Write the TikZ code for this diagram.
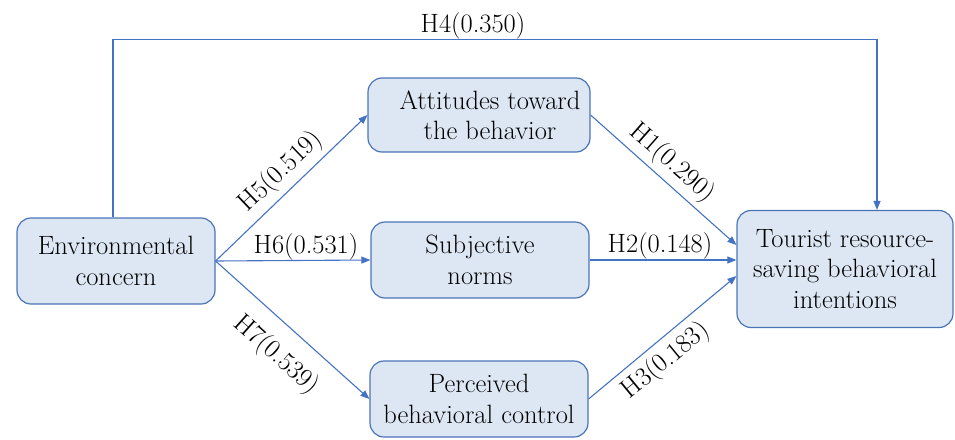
\documentclass[tikz,border=0pt]{standalone}
\usetikzlibrary{arrows.meta}
\definecolor{lineblue}{HTML}{4472C4}
\definecolor{boxfill}{HTML}{DDE7F4}
\definecolor{boxdraw}{HTML}{4A74B8}
\begin{document}
\begin{tikzpicture}[x=1pt,y=-1pt,
  box/.style={draw=boxdraw, fill=boxfill, line width=1.2pt, rounded corners=14pt, align=center, font=\rmfamily\fontsize{26.5}{30.5}\selectfont, inner sep=0pt},
  conn/.style={draw=lineblue, line width=1.1pt, -{Triangle[length=9pt,width=7pt]}},
  lbl/.style={font=\rmfamily\fontsize{26.5}{30.5}\selectfont, inner sep=0pt}]
\useasboundingbox (0,0) rectangle (955,439);
\node[box, minimum width=198pt, minimum height=86pt] (env) at (116,261) {Environmental\\concern};
\node[box, minimum width=222pt, minimum height=74pt] (att) at (479,115) {};
\node[lbl, align=center] (attT) at (490,115) {Attitudes toward\\the behavior};
\node[box, minimum width=218pt, minimum height=76pt] (sub) at (480,260) {Subjective\\norms};
\node[box, minimum width=218pt, minimum height=76pt] (per) at (479,399) {Perceived\\behavioral control};
\node[box, minimum width=216pt, minimum height=117pt] (tou) at (845,269) {Tourist resource-\\saving behavioral\\intentions};
\draw[conn] (env.east) -- (att.west);
\draw[conn] (env.east) -- (sub.west);
\draw[conn] (env.east) -- (per.west);
\draw[conn] (att.east) -- ([yshift=24pt]tou.west);
\draw[conn] (sub.east) -- (sub.east -| tou.west);
\draw[conn] (per.east) -- ([yshift=-7pt]tou.west);
\coordinate (h4a) at (113,39.5);
\coordinate (h4b) at (877,39.5);
\draw[conn] ([xshift=-3pt]env.north) -- (h4a) -- (h4b) -- ([xshift=32pt]tou.north);
\node[lbl, anchor=base] (l4) at (473,32) {H4(0.350)};
\node[lbl, rotate=43.7] (l5) at (281,172) {H5(0.519)};
\node[lbl, anchor=base] (l6) at (306,253) {H6(0.531)};
\node[lbl, rotate=-41.7] (l7) at (276,355) {H7(0.539)};
\node[lbl, rotate=-41.3] (l1) at (672,163) {H1(0.290)};
\node[lbl, anchor=base] (l2) at (660,252) {H2(0.148)};
\node[lbl, rotate=39.5] (l3) at (666,361) {H3(0.183)};
\end{tikzpicture}
\end{document}
